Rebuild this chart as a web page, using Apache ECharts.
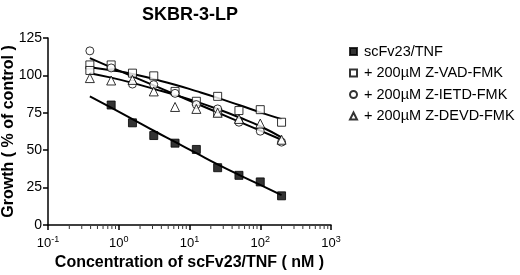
<!DOCTYPE html>
<html>
<head>
<meta charset="utf-8">
<script src="https://cdn.jsdelivr.net/npm/echarts@6/dist/echarts.min.js"></script>
<style>
  html, body { margin: 0; padding: 0; background: #fff; }
  #main { width: 520px; height: 275px; }
</style>
</head>
<body>
<div id="main"></div>
<script>
// concentrations (nM), twofold dilutions
var conc = [0.390625, 0.78125, 1.5625, 3.125, 6.25, 12.5, 25, 50, 100, 200];

// measured points (% of control)
var tnfOnly = [null, 80.2, 68.3, 59.8, 54.7, 50.5, 38.3, 33.2, 28.8, 19.5];
var vadPts  = [107, 107, 101.5, 99.7, 89.3, 82.7, 86, 76.5, 77.1, 68.7];
var vadRep  = [103.3, null, null, null, null, null, 75.3, null, null, null];
var ietdPts = [116.4, 105, 94.2, 93.8, 88, 80.5, 77.6, 68.7, 62.7, 55.4];
var devdPts = [98.2, 96.6, 97, 89.3, 78.9, 77.6, 75, 70.9, 67.8, 57];

// fitted curves
var tnfFit  = [86, 78.5, 70.8, 63, 55.5, 48, 40.5, 33.5, 26.8, 20];
var vadFit  = [105.5, 103.5, 101, 97.5, 93.8, 89.5, 85, 80.2, 75.3, 70.8];
var ietdFit = [111.5, 105.4, 99.4, 93.3, 87.3, 81.2, 75.2, 69.1, 63.1, 57];
var devdFit = [101.5, 98.5, 95, 91, 87, 82.5, 77.5, 72, 66, 58.5];

// minor tick positions of the log axis
var xMinor = [0.2, 0.3, 0.4, 0.5, 0.6, 0.7, 0.8, 0.9,
              2, 3, 4, 5, 6, 7, 8, 9,
              20, 30, 40, 50, 60, 70, 80, 90,
              200, 300, 400, 500, 600, 700, 800, 900];

var names = ['scFv23/TNF', '+ 200µM Z-VAD-FMK', '+ 200µM Z-IETD-FMK', '+ 200µM Z-DEVD-FMK'];

function pairs(vals) {
    var out = [];
    for (var i = 0; i < conc.length; i++) {
        if (vals[i] != null) out.push([conc[i], vals[i]]);
    }
    return out;
}

function fitLine(vals) {
    return {
        type: 'line',
        data: pairs(vals),
        smooth: true,
        symbol: 'none',
        silent: true,
        lineStyle: { color: '#000', width: 2 },
        z: 2
    };
}

function dots(name, vals, symbol, fill, size) {
    return {
        name: name,
        type: 'scatter',
        data: pairs(vals),
        symbol: symbol,
        symbolSize: size,
        itemStyle: { color: fill, borderColor: '#000', borderWidth: 1 },
        z: 3
    };
}

var font = 'Liberation Sans, Arial, Helvetica, sans-serif';
var myChart = echarts.init(document.getElementById('main'));

var option = {
    animation: false,
    textStyle: { fontFamily: font, color: '#000' },
    title: {
        text: 'SKBR-3-LP',
        left: 185,
        textAlign: 'center',
        top: 1,
        textStyle: { fontSize: 18, fontWeight: 'bold', color: '#000', fontFamily: font }
    },
    legend: {
        data: names,
        orient: 'vertical',
        left: 344,
        top: 39,
        itemWidth: 7,
        itemHeight: 7,
        itemGap: 6.5,
        textStyle: { fontSize: 14.5, lineHeight: 14, color: '#000', fontFamily: font, padding: [0, 0, 0, 2] }
    },
    grid: { left: 48, right: 189, top: 38, bottom: 50, outerBoundsMode: 'none', containLabel: false },
    xAxis: {
        type: 'log',
        logBase: 10,
        min: 0.1,
        max: 1000,
        name: 'Concentration of scFv23/TNF ( nM )',
        nameLocation: 'middle',
        nameGap: 30,
        nameTextStyle: { fontSize: 16, fontWeight: 'bold', color: '#000', fontFamily: font },
        axisLine: { lineStyle: { color: '#000', width: 1.5 } },
        axisTick: { length: 5, lineStyle: { color: '#000', width: 1.5 } },
        splitLine: { show: false },
        axisLabel: {
            color: '#000',
            fontSize: 13,
            margin: 10,
            formatter: function (v) {
                var e = Math.round(Math.log10(v));
                return '10{sup|' + e + '}';
            },
            rich: {
                sup: { fontSize: 9, verticalAlign: 'top', padding: [0, 0, 8, 0], color: '#000' }
            }
        }
    },
    yAxis: {
        type: 'value',
        min: 0,
        max: 125,
        interval: 25,
        name: 'Growth ( % of control )',
        nameLocation: 'middle',
        nameRotate: 90,
        nameGap: 31,
        nameMoveOverlap: false,
        nameTextStyle: { fontSize: 16, fontWeight: 'bold', color: '#000', fontFamily: font },
        axisLine: { show: true, lineStyle: { color: '#000', width: 1.5 } },
        axisTick: { show: true, length: 5, lineStyle: { color: '#000', width: 1.5 } },
        splitLine: { show: false },
        axisLabel: { color: '#000', fontSize: 14, margin: 6 }
    },
    series: [
        {
            // minor ticks under the x axis line
            type: 'scatter',
            data: xMinor.map(function (v) { return [v, 0]; }),
            symbol: 'rect',
            symbolSize: [1, 3],
            symbolOffset: [0, 2.5],
            clip: false,
            silent: true,
            itemStyle: { color: '#000' },
            z: 1
        },
        fitLine(tnfFit),
        fitLine(vadFit),
        fitLine(ietdFit),
        fitLine(devdFit),
        dots(names[0], tnfOnly, 'rect', '#000', 8),
        dots(names[1], vadPts, 'rect', '#fff', 8),
        dots(names[1], vadRep, 'rect', '#fff', 8),
        dots(names[2], ietdPts, 'circle', '#fff', 8),
        dots(names[3], devdPts, 'triangle', '#fff', 9)
    ]
};
myChart.setOption(option);
</script>
</body>
</html>
